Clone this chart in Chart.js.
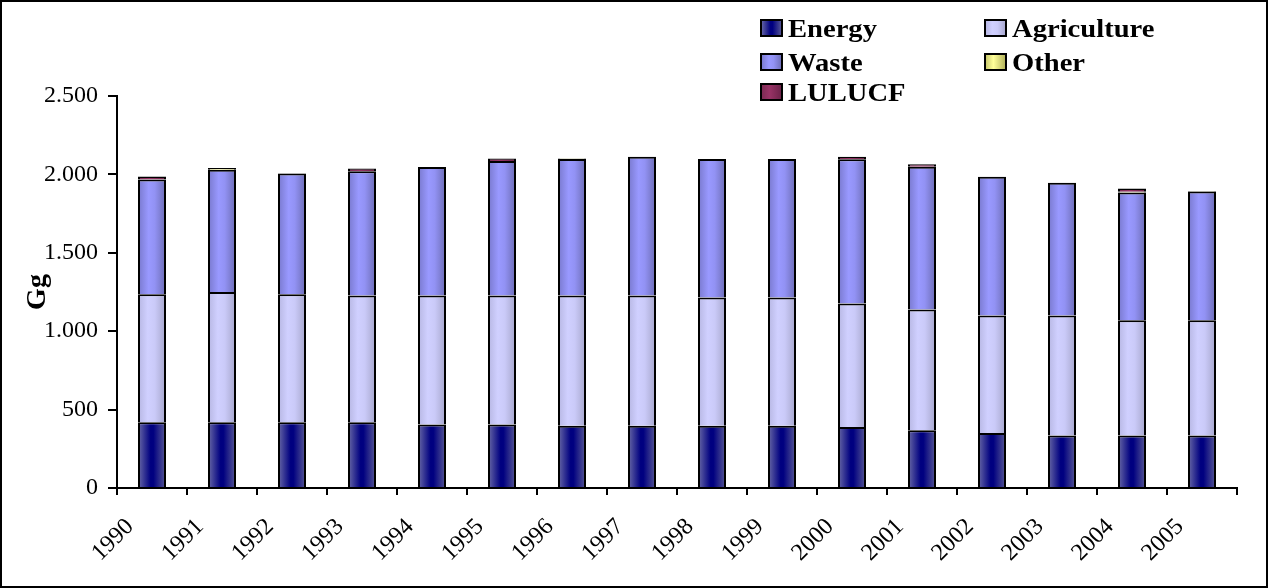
<!DOCTYPE html>
<html>
<head>
<meta charset="utf-8">
<script src="https://cdn.jsdelivr.net/npm/chart.js@4/dist/chart.umd.min.js"></script>
<style>
  html, body { margin: 0; padding: 0; background: #ffffff; }
  #wrap { position: relative; width: 1268px; height: 588px; }
</style>
</head>
<body>
<div id="wrap"><canvas id="c" width="1268" height="588"></canvas></div>
<script>
// Emissions by sector, Gg
const years = ['1990','1991','1992','1993','1994','1995','1996','1997','1998','1999','2000','2001','2002','2003','2004','2005'];
const energy      = [420, 420, 420, 420, 405, 405, 397, 397, 397, 397, 389, 368, 351, 335, 335, 335];
const agriculture = [816, 830, 816, 807, 822, 822, 830, 830, 818, 818, 787, 770, 749, 765, 735, 735];
const waste       = [732, 779, 769, 793, 820, 859, 871, 885, 883, 883, 920, 910, 885, 846, 814, 821];
const other       = [0, 12, 3, 0, 0, 0, 3, 0, 0, 0, 0, 0, 0, 0, 6, 3];
const lulucf      = [18, 0, 0, 18, 0, 16, 0, 0, 0, 0, 16, 16, 0, 0, 20, 0];
const yTickLabels = ['0', '500', '1.000', '1.500', '2.000', '2.500'];

// horizontal shading stops for each series
const shades = {
  energy:      [[0, '#6a6aa6'], [0.45, '#000080'], [0.55, '#000080'], [1, '#5a5a96']],
  agriculture: [[0, '#b6b6e2'], [0.35, '#d0d0ff'], [0.6, '#cacaf8'], [1, '#a6a6cc']],
  waste:       [[0, '#7878cc'], [0.38, '#9999ff'], [0.6, '#9292f4'], [1, '#6c6cb4']],
  other:       [[0, '#c4c46a'], [0.4, '#ffff99'], [1, '#b0b05a']],
  lulucf:      [[0, '#7a2a52'], [0.4, '#993366'], [1, '#6a2248']]
};

function makeGradient(ctx, x0, x1, stops) {
  const g = ctx.createLinearGradient(x0, 0, x1, 0);
  stops.forEach(s => g.addColorStop(s[0], s[1]));
  return g;
}

const BAR_PCT = 0.4;

function barFill(stops) {
  return (c) => {
    const chart = c.chart;
    if (!chart.chartArea || c.dataIndex === undefined) return stops[1][1];
    const xs = chart.scales.x;
    const cx = xs.getPixelForValue(c.dataIndex);
    const half = (xs.width / years.length) * BAR_PCT / 2;
    return makeGradient(chart.ctx, cx - half, cx + half, stops);
  };
}

function series(label, data, key) {
  return {
    label: label,
    data: data,
    backgroundColor: barFill(shades[key]),
    borderColor: '#000000',
    borderWidth: 2,
    stack: 's',
    shadeKey: key
  };
}

const serif = '"Liberation Serif", "Times New Roman", serif';

// legend in two columns, top right
const legendPlugin = {
  id: 'sectorLegend',
  afterDraw(chart) {
    const ctx = chart.ctx;
    const items = chart.data.datasets;
    const colX = [761, 985];
    const rowY = [28, 62, 92];
    ctx.save();
    items.forEach((ds, i) => {
      const col = i % 2, row = Math.floor(i / 2);
      const x = colX[col], y = rowY[row];
      const w = 21, h = 16;
      ctx.fillStyle = makeGradient(ctx, x, x + w, shades[ds.shadeKey]);
      ctx.fillRect(x, y - h / 2, w, h);
      ctx.strokeStyle = '#000000';
      ctx.lineWidth = 2;
      ctx.strokeRect(x, y - h / 2, w, h);
      ctx.save();
      ctx.translate(x + 27, y + 8.5);
      ctx.scale(1.1, 1);
      ctx.fillStyle = '#000000';
      ctx.font = 'bold 26px ' + serif;
      ctx.textAlign = 'left';
      ctx.textBaseline = 'alphabetic';
      ctx.fillText(ds.label, 0, 0);
      ctx.restore();
    });
    ctx.restore();
  }
};

// white page with a black frame
const framePlugin = {
  id: 'frame',
  beforeDraw(chart) {
    const ctx = chart.ctx;
    ctx.save();
    ctx.fillStyle = '#ffffff';
    ctx.fillRect(0, 0, chart.width, chart.height);
    ctx.restore();
  },
  afterDraw(chart) {
    const ctx = chart.ctx;
    ctx.save();
    ctx.strokeStyle = '#000000';
    ctx.lineWidth = 2;
    ctx.strokeRect(1, 1, chart.width - 2, chart.height - 2);
    ctx.restore();
  }
};

new Chart(document.getElementById('c'), {
  type: 'bar',
  data: {
    labels: years,
    datasets: [
      series('Energy', energy, 'energy'),
      series('Agriculture', agriculture, 'agriculture'),
      series('Waste', waste, 'waste'),
      series('Other', other, 'other'),
      series('LULUCF', lulucf, 'lulucf')
    ]
  },
  options: {
    responsive: false,
    animation: false,
    devicePixelRatio: 1,
    layout: { padding: { left: 0, top: 96, right: 31, bottom: 0 } },
    datasets: { bar: { barPercentage: BAR_PCT, categoryPercentage: 1.0 } },
    plugins: {
      legend: { display: false },
      tooltip: { enabled: false },
      title: { display: false }
    },
    scales: {
      x: {
        stacked: true,
        offset: true,
        afterFit(scale) { scale.height = 100; },
        border: { display: true, color: '#000000', width: 2 },
        grid: { offset: true, drawOnChartArea: false, drawTicks: true, tickLength: 7, color: '#000000', lineWidth: 2 },
        ticks: {
          autoSkip: false,
          minRotation: 45,
          maxRotation: 45,
          labelOffset: -22,
          padding: 18,
          color: '#000000',
          font: { family: serif, size: 24 }
        }
      },
      y: {
        stacked: true,
        min: 0,
        max: 2500,
        afterFit(scale) { scale.width = 117; },
        border: { display: true, color: '#000000', width: 2 },
        grid: { drawOnChartArea: false, drawTicks: true, tickLength: 9, color: '#000000', lineWidth: 2 },
        ticks: {
          stepSize: 500,
          padding: 10,
          color: '#000000',
          font: { family: serif, size: 24 },
          callback: (v, i) => yTickLabels[i]
        },
        title: {
          display: true,
          text: 'Gg',
          color: '#000000',
          font: { family: serif, size: 28, weight: 'bold' },
          padding: { top: 21, bottom: 0 }
        }
      }
    }
  },
  plugins: [framePlugin, legendPlugin]
});
</script>
</body>
</html>
